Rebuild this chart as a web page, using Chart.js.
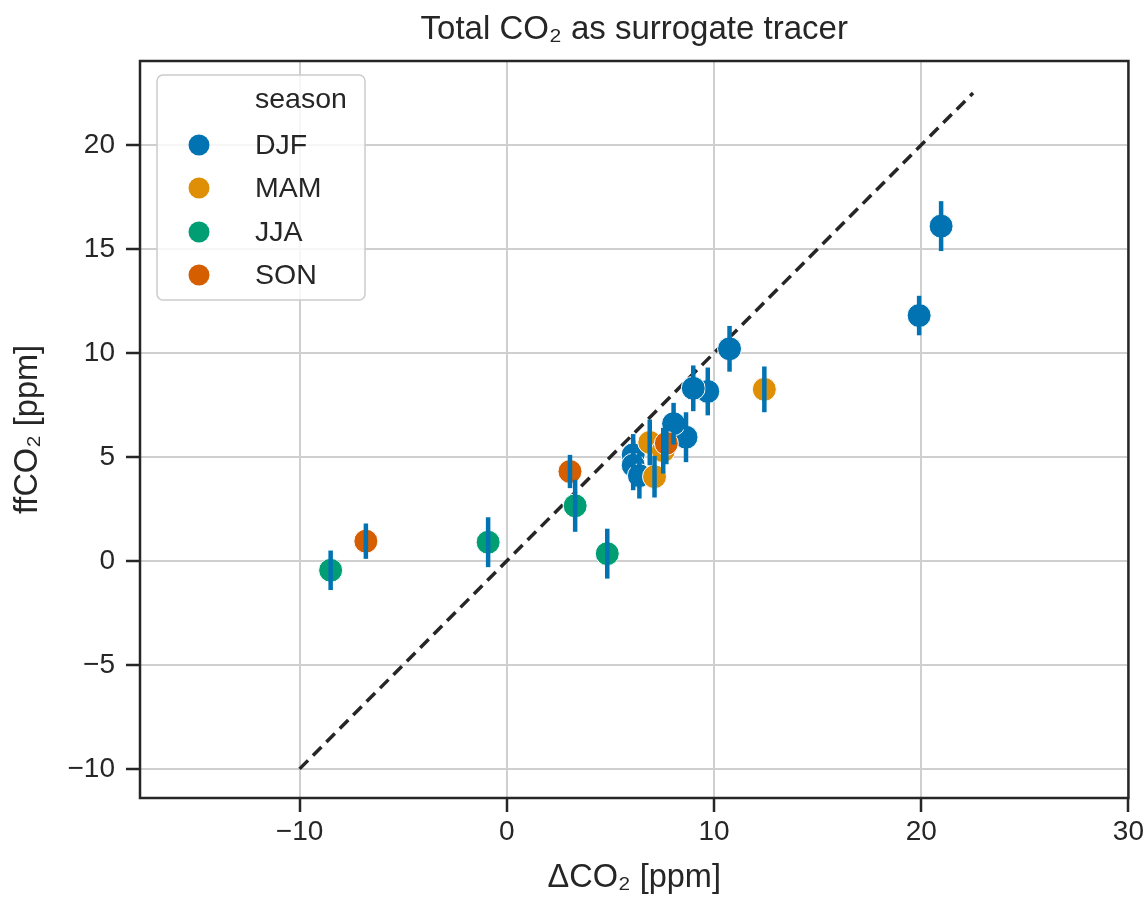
<!DOCTYPE html>
<html>
<head>
<meta charset="utf-8">
<script src="https://cdn.jsdelivr.net/npm/chart.js@4.4.1/dist/chart.umd.min.js"></script>
<style>
  html, body { margin: 0; padding: 0; background: #fff; }
  canvas { display: block; }
</style>
</head>
<body>
<canvas id="chart" width="1147" height="897"></canvas>
<script>
// data
const seasons = ["DJF", "MAM", "JJA", "SON"];
const seasonColors = ["#0173b2", "#de8f05", "#029e73", "#d55e00"];

const djfX = [20.96, 19.9, 10.75, 9.7, 9.0, 8.65, 8.05, 6.1, 6.1, 6.4];
const djfY = [16.1, 11.8, 10.2, 8.15, 8.3, 5.95, 6.6, 5.1, 4.6, 4.1];
const djfErr = [1.2, 0.95, 1.1, 1.15, 1.1, 1.2, 1.0, 1.0, 1.2, 1.1];

const mamX = [12.43, 6.9, 7.13, 7.55];
const mamY = [8.25, 5.7, 4.05, 5.3];
const mamErr = [1.1, 1.1, 1.0, 1.1];

const jjaX = [-8.5, -0.9, 3.3, 4.85];
const jjaY = [-0.45, 0.9, 2.65, 0.35];
const jjaErr = [0.95, 1.2, 1.25, 1.2];

const sonX = [3.05, -6.8, 7.7];
const sonY = [4.3, 0.95, 5.65];
const sonErr = [0.8, 0.85, 1.0];

const identityX = [-10, 22.5];

const xTicks = [-10, 0, 10, 20, 30];
const yTicks = [-10, -5, 0, 5, 10, 15, 20];

const titleText = "Total CO\u2082 as surrogate tracer";
const textColor = "#262626";
const errColor = "#0173b2";
const fontFamily = "'Liberation Sans', Arial, sans-serif";

Chart.defaults.font.family = fontFamily;
Chart.defaults.color = textColor;

function toPoints(xs, ys) {
  return xs.map((x, i) => ({ x: x, y: ys[i] }));
}

const seasonData = [
  { x: djfX, y: djfY, err: djfErr },
  { x: mamX, y: mamY, err: mamErr },
  { x: jjaX, y: jjaY, err: jjaErr },
  { x: sonX, y: sonY, err: sonErr },
];

const scatterSets = seasons.map((name, i) => ({
  type: "scatter",
  label: name,
  data: toPoints(seasonData[i].x, seasonData[i].y),
  backgroundColor: seasonColors[i],
  borderColor: "#ffffff",
  borderWidth: 1,
  pointRadius: 12,
  order: 4 - i,
}));

const identitySet = {
  type: "line",
  label: "identity",
  data: toPoints(identityX, identityX),
  borderColor: "#262626",
  borderWidth: 3.5,
  borderDash: [12, 7],
  pointRadius: 0,
  fill: false,
  order: 10,
};

// vertical error bars, all drawn in the first palette colour
const errorBars = {
  id: "errorBars",
  afterDatasetsDraw(chart) {
    const ctx = chart.ctx;
    const yScale = chart.scales.y;
    ctx.save();
    ctx.strokeStyle = errColor;
    ctx.lineWidth = 4.5;
    ctx.lineCap = "butt";
    seasons.forEach((name, si) => {
      const dsIndex = chart.data.datasets.findIndex((d) => d.label === name);
      const meta = chart.getDatasetMeta(dsIndex);
      const sd = seasonData[si];
      meta.data.forEach((pt, i) => {
        const y0 = yScale.getPixelForValue(sd.y[i] - sd.err[i]);
        const y1 = yScale.getPixelForValue(sd.y[i] + sd.err[i]);
        ctx.beginPath();
        ctx.moveTo(pt.x, y0);
        ctx.lineTo(pt.x, y1);
        ctx.stroke();
      });
    });
    ctx.restore();
  },
};

// full box around the plot area + title centred over the axes
const frame = {
  id: "frame",
  afterDraw(chart) {
    const { ctx, chartArea } = chart;
    ctx.save();
    ctx.strokeStyle = textColor;
    ctx.lineWidth = 2.5;
    ctx.strokeRect(
      chartArea.left,
      chartArea.top,
      chartArea.right - chartArea.left,
      chartArea.bottom - chartArea.top
    );
    ctx.font = "33px " + fontFamily;
    ctx.fillStyle = textColor;
    ctx.textAlign = "center";
    ctx.textBaseline = "alphabetic";
    ctx.fillText(titleText, (chartArea.left + chartArea.right) / 2, 39);
    ctx.restore();
  },
};

// legend inside the axes, seaborn style
const innerLegend = {
  id: "innerLegend",
  afterDraw(chart) {
    const ctx = chart.ctx;
    const left = 157, top = 75, w = 208, h = 225;
    ctx.save();
    ctx.beginPath();
    ctx.roundRect(left, top, w, h, 6);
    ctx.fillStyle = "rgba(255,255,255,0.8)";
    ctx.fill();
    ctx.strokeStyle = "#cccccc";
    ctx.lineWidth = 1.5;
    ctx.stroke();

    ctx.font = "28.5px " + fontFamily;
    ctx.fillStyle = textColor;
    ctx.textBaseline = "middle";
    ctx.textAlign = "left";
    ctx.fillText("season", 255, 100);

    const rowY = [145, 188, 232, 275];
    seasons.forEach((name, i) => {
      ctx.beginPath();
      ctx.arc(199, rowY[i], 10.5, 0, Math.PI * 2);
      ctx.fillStyle = seasonColors[i];
      ctx.fill();
      ctx.fillStyle = textColor;
      ctx.fillText(name, 255, rowY[i] + 1);
    });
    ctx.restore();
  },
};

const minus = (v) => String(v).replace("-", "\u2212");

new Chart(document.getElementById("chart"), {
  data: { datasets: [identitySet].concat(scatterSets) },
  options: {
    responsive: false,
    animation: false,
    devicePixelRatio: 1,
    layout: { padding: { left: 0, right: 17, top: 61, bottom: 0 } },
    plugins: {
      legend: { display: false },
      tooltip: { enabled: false },
      title: { display: false },
    },
    scales: {
      x: {
        type: "linear",
        min: -17.7,
        max: 30,
        afterBuildTicks: (s) => {
          s.ticks = xTicks.map((v) => ({ value: v }));
        },
        afterFit: (s) => {
          s.height = 99;
        },
        border: { display: false },
        grid: {
          color: "#cfcfcf",
          lineWidth: 2,
          tickColor: textColor,
          tickLength: 14,
          tickWidth: 2.5,
        },
        ticks: {
          color: textColor,
          font: { size: 28 },
          padding: 3,
          maxRotation: 0,
          callback: (v) => minus(v),
        },
        title: {
          display: true,
          text: "\u0394CO\u2082 [ppm]",
          color: textColor,
          font: { size: 32.5, lineHeight: 1.1 },
          padding: { top: 0, bottom: 1 },
        },
      },
      y: {
        type: "linear",
        min: -11.4,
        max: 24.04,
        afterBuildTicks: (s) => {
          s.ticks = yTicks.map((v) => ({ value: v }));
        },
        afterFit: (s) => {
          s.width = 140;
        },
        border: { display: false },
        grid: {
          color: "#cfcfcf",
          lineWidth: 2,
          tickColor: textColor,
          tickLength: 14,
          tickWidth: 2.5,
        },
        ticks: {
          color: textColor,
          font: { size: 28 },
          padding: 11,
          callback: (v) => minus(v),
        },
        title: {
          display: true,
          text: "ffCO\u2082 [ppm]",
          color: textColor,
          font: { size: 32.5, lineHeight: 1.1 },
          padding: { top: 10, bottom: 0 },
        },
      },
    },
  },
  plugins: [errorBars, frame, innerLegend],
});
</script>
</body>
</html>
